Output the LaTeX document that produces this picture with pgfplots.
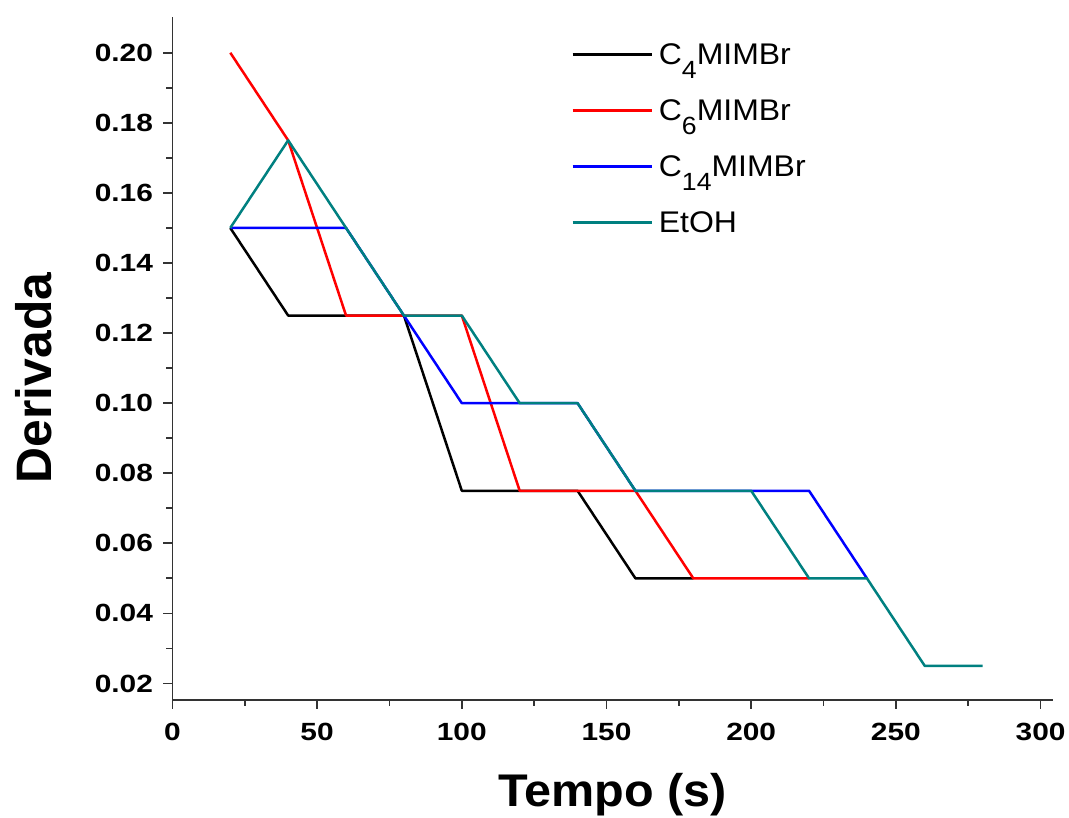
\documentclass[border=0pt]{standalone}
\usepackage{fontspec}
\setmainfont{Liberation Sans}
\newfontfamily\tickfont{Liberation Sans}[FakeStretch=1.2]
\newfontfamily\labfont{Liberation Sans}[FakeStretch=1.06]
\newfontfamily\legfont{Liberation Sans}[FakeStretch=1.07]
\usepackage{pgfplots}
\pgfplotsset{compat=1.18}
\definecolor{tealc}{RGB}{0,128,128}
\newcommand{\sub}[1]{\raisebox{-14bp}{\fontsize{25}{25}\selectfont #1}}
\begin{document}
\begin{tikzpicture}
\begin{axis}[
  name=a,
  scale only axis,
  width=881bp, height=683bp,
  xmin=0, xmax=304.3,
  ymin=0.01538, ymax=0.2102,
  axis lines*=left,
  axis line style={line width=1.8bp, color=black!80},
  xtick={0,50,...,300},
  ytick={0.02,0.04,...,0.201},
  minor x tick num=1, minor y tick num=1,
  tick align=outside,
  major tick length=9bp, minor tick length=6bp,
  tick style={line width=1.8bp, color=black!80},
  /pgf/number format/assume math mode=true,
  ticklabel style={font=\tickfont\bfseries\fontsize{25}{28}\selectfont},
  yticklabel style={/pgf/number format/fixed, /pgf/number format/fixed zerofill, /pgf/number format/precision=2, xshift=-7bp},
  xticklabel style={yshift=-11bp},
  scaled y ticks=false,
  xlabel={Tempo (s)},
  ylabel={Derivada},
  xlabel style={font=\labfont\bfseries\fontsize{46}{50}\selectfont, at={(axis description cs:0.5,0)}, anchor=base, yshift=-107bp},
  ylabel style={font=\bfseries\fontsize{50}{54}\selectfont, at={(axis description cs:0,0.4714)}, anchor=base, yshift=120.5bp},
  legend cell align=left,
  legend style={at={(axis description cs:0.4495,0.9653)}, anchor=north west, draw=none, fill=none,
    font=\legfont\fontsize{30}{30}\selectfont, row sep=19bp, column sep=0bp,
    nodes={inner sep=0pt, text height=22bp, text depth=15bp}},
  legend image code/.code={\draw[#1,line width=2.5bp] (0bp,7bp) -- (79bp,7bp); \path (85bp,7bp);},
  every axis plot/.append style={line width=2.5bp, line join=round},
]
\addplot[black] coordinates {(20,0.15)(40,0.125)(60,0.125)(80,0.125)(100,0.075)(120,0.075)(140,0.075)(160,0.05)(180,0.05)};
\addlegendentry{C\sub{4}MIMBr}
\addplot[red] coordinates {(20,0.2)(40,0.175)(60,0.125)(80,0.125)(100,0.125)(120,0.075)(140,0.075)(160,0.075)(180,0.05)(200,0.05)(220,0.05)};
\addlegendentry{C\sub{6}MIMBr}
\addplot[blue] coordinates {(20,0.15)(40,0.15)(60,0.15)(80,0.125)(100,0.1)(120,0.1)(140,0.1)(160,0.075)(180,0.075)(200,0.075)(220,0.075)(240,0.05)};
\addlegendentry{C\sub{14}MIMBr}
\addplot[tealc] coordinates {(20,0.15)(40,0.175)(60,0.15)(80,0.125)(100,0.125)(120,0.1)(140,0.1)(160,0.075)(180,0.075)(200,0.075)(220,0.05)(240,0.05)(260,0.025)(280,0.025)};
\addlegendentry{EtOH}
\end{axis}
\pgfresetboundingbox
\path (a.south west) ++(-172.5bp,-118bp) coordinate (bl);
\path (a.north east) ++(16bp,17bp) coordinate (tr);
\useasboundingbox (bl) rectangle (tr);
\end{tikzpicture}
\end{document}
